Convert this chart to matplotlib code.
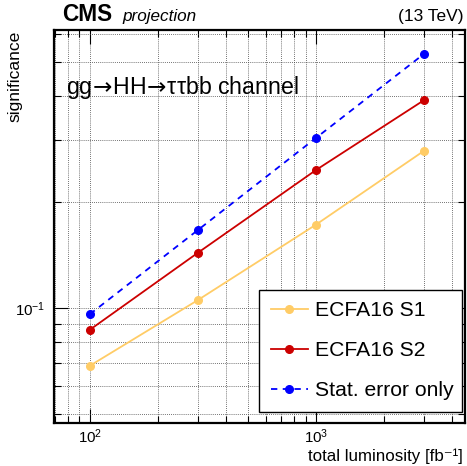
import math
import matplotlib
matplotlib.use("Agg")
import matplotlib.pyplot as plt
from matplotlib.ticker import LogLocator, FuncFormatter, NullFormatter

plt.rcParams["font.family"] = ["Liberation Sans", "DejaVu Sans"]
plt.rcParams["mathtext.fontset"] = "custom"
plt.rcParams["mathtext.rm"] = "Liberation Sans"
plt.rcParams["mathtext.it"] = "Liberation Sans:italic"

# data
luminosity = [100, 300, 1000, 3000]
sig_s1 = [0.0686, 0.1054, 0.1728, 0.280]
sig_s2 = [0.0868, 0.1436, 0.247, 0.390]
sig_stat = [0.0961, 0.1666, 0.3047, 0.528]

series_labels = ["ECFA16 S1", "ECFA16 S2", "Stat. error only"]

fig = plt.figure(figsize=(4.67, 4.66), dpi=100)
ax = fig.add_axes([0.1156, 0.0923, 0.8801, 0.8433])

ax.plot(luminosity, sig_s1, color="#ffcc66", lw=1.3, marker="o", ms=5.5,
        label=series_labels[0])
ax.plot(luminosity, sig_s2, color="#cc0000", lw=1.3, marker="o", ms=5.5,
        label=series_labels[1])
ax.plot(luminosity, sig_stat, color="#0000ff", lw=1.3, marker="o", ms=5.5,
        ls=(0, (3.5, 3)), label=series_labels[2])

ax.set_xscale("log")
ax.set_yscale("log")
ax.set_xlim(69.5, 4550)
ax.set_ylim(0.0472, 0.617)


def pow_fmt(v, pos):
    e = int(round(math.log10(v)))
    if abs(v - 10 ** e) > 1e-9 * v:
        return ""
    return r"$10^{%d}$" % e


ax.xaxis.set_major_locator(LogLocator(base=10))
ax.xaxis.set_minor_locator(LogLocator(base=10, subs=range(2, 10)))
ax.yaxis.set_major_locator(LogLocator(base=10))
ax.yaxis.set_minor_locator(LogLocator(base=10, subs=range(2, 10)))
ax.xaxis.set_major_formatter(FuncFormatter(pow_fmt))
ax.yaxis.set_major_formatter(FuncFormatter(pow_fmt))
ax.xaxis.set_minor_formatter(NullFormatter())
ax.yaxis.set_minor_formatter(NullFormatter())

ax.tick_params(which="both", direction="in", top=True, right=True,
               labelsize=10.8, width=0.8)
ax.tick_params(which="major", length=10, pad=3)
ax.tick_params(axis="y", which="major", pad=6)
ax.tick_params(which="minor", length=5)

ax.grid(True, which="both", color="#444444", ls=(0, (1, 1.5)), lw=0.6)
for s in ax.spines.values():
    s.set_linewidth(1.6)

leg = ax.legend(loc="lower left", bbox_to_anchor=(0.499, 0.028, 0.494, 0.323),
                mode="expand", fontsize=15.2, frameon=True, fancybox=False,
                edgecolor="black", framealpha=1, handlelength=1.75,
                handletextpad=0.35, labelspacing=1.0, borderpad=0.55,
                borderaxespad=0)
leg.get_frame().set_linewidth(1.0)

ax.text(0.03, 0.837, r"gg$\!\rightarrow\!$HH$\!\rightarrow\!$ττbb channel",
        transform=ax.transAxes, fontsize=16.7, va="baseline", ha="left",
        math_fontfamily="dejavusans")

fig.text(0.1335, 0.955, "CMS", fontsize=16.3, fontweight="bold", va="baseline")
fig.text(0.263, 0.955, "projection", fontsize=12.3, style="italic", va="baseline")
fig.text(0.992, 0.955, "(13 TeV)", fontsize=12.5, ha="right", va="baseline")

fig.text(0.992, 0.010, "total luminosity [fb⁻¹]", fontsize=12.2,
         ha="right", va="baseline")
fig.text(0.016, 0.935, "significance", fontsize=12.6, rotation=90,
         ha="left", va="top")

fig.savefig("out.png", dpi=100)
